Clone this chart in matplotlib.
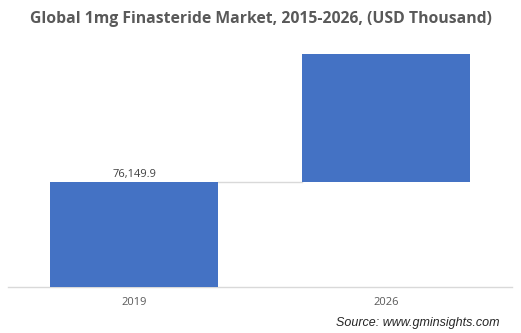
import matplotlib

matplotlib.use("Agg")
import matplotlib.pyplot as plt

# Market size, USD thousand
years = ["2019", "2026"]
start_2019 = 76149.9
end_2026 = 168800.0
bar_label = "76,149.9"

bar_color = "#4472C4"
grid_color = "#D9D9D9"
text_color = "#595959"

fig = plt.figure(figsize=(5.21, 3.33), dpi=100)
ax = fig.add_axes([8 / 521, 1 - 287 / 333, 504 / 521, (287 - 45) / 333])

# floating waterfall: first bar from zero, second from the first bar's top
bottoms = [0, start_2019]
heights = [start_2019, end_2026 - start_2019]
ax.bar(range(len(years)), heights, bottom=bottoms, width=0.663,
       color=bar_color, zorder=3)

# connector between the two bars
ax.plot([0 + 0.663 / 2, 1 - 0.663 / 2], [start_2019, start_2019],
        color=grid_color, lw=1, zorder=2)

ax.text(0, start_2019 + 1500, bar_label, ha="center", va="bottom",
        fontsize=8, color="#404040", family="Open Sans")

ax.set_xlim(-0.5, 1.5)
ax.set_ylim(0, (287 - 45) * 725.2)
ax.set_xticks(range(len(years)))
ax.set_xticklabels(years, fontsize=8, color=text_color, family="Open Sans")
ax.tick_params(axis="x", length=0, pad=7)
ax.set_yticks([])
for side in ["top", "right", "left"]:
    ax.spines[side].set_visible(False)
ax.spines["bottom"].set_color(grid_color)
ax.spines["bottom"].set_linewidth(1)

fig.text(0.5, 1 - 19 / 333, "Global 1mg Finasteride Market, 2015-2026, (USD Thousand)",
         ha="center", va="center", fontsize=11.3, fontweight="bold",
         color=text_color, family="Open Sans")
fig.text(499 / 521, 1 - 323 / 333, "Source: www.gminsights.com",
         ha="right", va="center", fontsize=9, style="italic",
         color="#262626", family="Liberation Sans")

fig.savefig("out.png", dpi=100)
